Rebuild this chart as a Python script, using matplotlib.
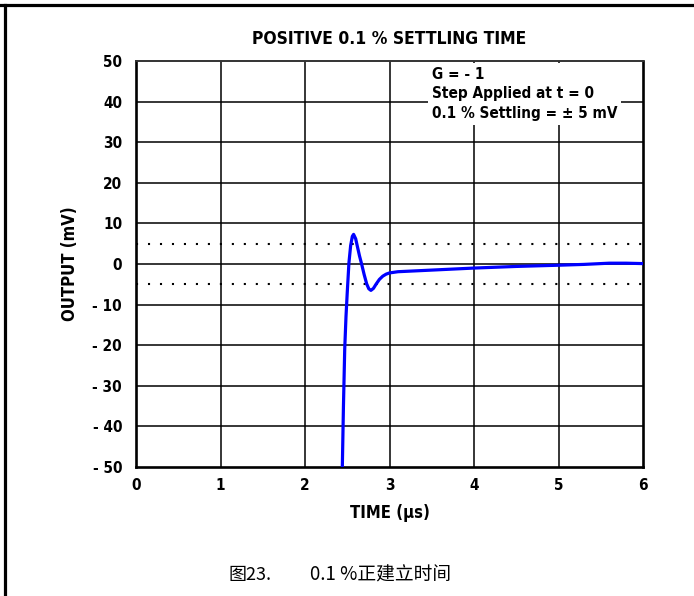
import matplotlib
matplotlib.use("Agg")
import matplotlib.pyplot as plt
import numpy as np

# settling response
time_us = [2.44, 2.455, 2.47, 2.485, 2.50, 2.52, 2.54, 2.56, 2.575, 2.60, 2.62,
           2.645, 2.67, 2.70, 2.73, 2.755, 2.78, 2.81, 2.84, 2.88, 2.92, 2.96,
           3.00, 3.10, 3.30, 3.60, 4.00, 4.50, 5.00, 5.30, 5.60, 5.80, 6.00]
output_mv = [-52, -35, -21, -13, -7, 0.3, 4.5, 6.8, 7.3, 6.2, 4.3,
             2.0, 0.0, -2.6, -4.9, -6.1, -6.5, -6.0, -5.0, -3.8, -3.0, -2.5,
             -2.2, -1.9, -1.7, -1.4, -1.0, -0.6, -0.3, -0.1, 0.2, 0.2, 0.1]
settle_band = [5, -5]
xticks = [0, 1, 2, 3, 4, 5, 6]
yticks = [50, 40, 30, 20, 10, 0, -10, -20, -30, -40, -50]
ytick_labels = ["50", "40", "30", "20", "10", "0", "- 10", "- 20", "- 30", "- 40", "- 50"]

cond = dict(family=["DejaVu Sans"], fontweight="bold", fontstretch="condensed")

fig = plt.figure(figsize=(6.94, 5.96), dpi=100)
W, H = 694, 596
ax = fig.add_axes([136 / W, 1 - 467 / H, (643 - 136) / W, (467 - 61) / H])

ax.set_xlim(0, 6)
ax.set_ylim(-50, 50)

# grid
for x in xticks[1:-1]:
    ax.axvline(x, color="black", lw=1.1, zorder=1)
for y in yticks[1:-1]:
    ax.axhline(y, color="black", lw=1.1, zorder=1)
for y in settle_band:
    ax.axhline(y, color="black", lw=1.5, ls=(0, (1, 4.75)), zorder=1)

ax.plot(time_us, output_mv, color="#0000ff", lw=2.3, zorder=3)

for s in ["left", "bottom", "right"]:
    ax.spines[s].set_linewidth(1.9)
ax.spines["top"].set_linewidth(1.4)
ax.spines["top"].set_color("#333333")

ax.set_xticks(xticks)
ax.set_xticklabels([str(x) for x in xticks], fontsize=11, **cond)
ax.set_yticks(yticks)
ax.set_yticklabels(ytick_labels, fontsize=11, **cond)
ax.tick_params(axis="y", length=0, pad=10)
ax.tick_params(axis="x", length=0, pad=8)

ax.set_xlabel("TIME (µs)", fontsize=12, labelpad=8, **cond)
ax.set_ylabel("OUTPUT (mV)", fontsize=12, labelpad=10, **cond)
ax.set_title("POSITIVE 0.1 % SETTLING TIME", fontsize=12.5, pad=12, **cond)

ax.text(3.5, 48.6, "G = - 1\nStep Applied at t = 0\n0.1 % Settling = ± 5 mV",
        fontsize=11, va="top", ha="left", linespacing=1.4, zorder=4,
        bbox=dict(facecolor="white", edgecolor="none", pad=3), **cond)

# page frame lines (top and left)
fig.add_artist(plt.Line2D([0, 1], [1 - 5 / H, 1 - 5 / H], color="black", lw=2.3,
                          transform=fig.transFigure))
fig.add_artist(plt.Line2D([5 / W, 5 / W], [0, 1 - 5 / H], color="black", lw=2.3,
                          transform=fig.transFigure))

cjk = ["Noto Sans CJK SC", "DejaVu Sans"]
fig.text(228 / W, 1 - 575 / H, "图23.", family=cjk, fontsize=13, va="center", ha="left")
fig.text(310 / W, 1 - 575 / H, "0.1 %正建立时间", family=cjk, fontsize=13.5,
         va="center", ha="left")

fig.savefig("out.png", dpi=100)
